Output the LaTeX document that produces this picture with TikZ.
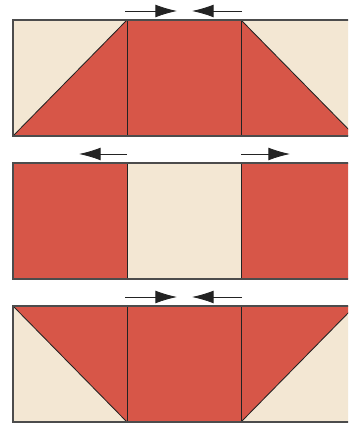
\documentclass[tikz,border=0pt]{standalone}
\usepackage{xcolor}
\usetikzlibrary{arrows.meta, math}
\definecolor{qred}{RGB}{215,86,72}
\definecolor{qcream}{RGB}{243,231,211}
\definecolor{qline}{RGB}{35,35,35}

\begin{document}
\begin{tikzpicture}[x=0.025cm,y=0.025cm]
\tikzmath{
\W=114;
\H=116;
\P=143;
\xa=13;
\xb=\xa+\W;
\xc=\xa+2*\W;
\xd=\xa+3*\W;
\g=9;
}
\tikzset{
  seam/.style={line width=0.6pt,color=qline},
  frame/.style={line width=0.8pt,color=black!70},
  push/.style={line width=0.6pt,color=qline,-{Latex[length=5.4mm,width=3.2mm]}}
}
\useasboundingbox (0,0) rectangle (348,425);
\clip (0,0) rectangle (348,425);

%row 1
\tikzmath{\yb=3+2*\P; \yt=\yb+\H;}
\fill[qcream] (\xa,\yb) rectangle (\xd,\yt);
\fill[qred] (\xa,\yb) -- (\xb,\yt) -- (\xc,\yt) -- (\xd,\yb) -- cycle;
\draw[seam] (\xa,\yb) -- (\xb,\yt) (\xc,\yt) -- (\xd,\yb);
\draw[seam] (\xb,\yb) -- (\xb,\yt) (\xc,\yb) -- (\xc,\yt);
\draw[frame] (\xa,\yb) rectangle (\xd,\yt);
\draw[push] (\xb-2,\yt+\g) -- (\xb+50,\yt+\g);
\draw[push] (\xc+1,\yt+\g) -- (\xc-49,\yt+\g);

%row 2
\tikzmath{\yb=3+\P; \yt=\yb+\H;}
\fill[qred] (\xa,\yb) rectangle (\xd,\yt);
\fill[qcream] (\xb,\yb) rectangle (\xc,\yt);
\draw[seam] (\xb,\yb) -- (\xb,\yt) (\xc,\yb) -- (\xc,\yt);
\draw[frame] (\xa,\yb) rectangle (\xd,\yt);
\draw[push] (\xb,\yt+\g) -- (\xb-48,\yt+\g);
\draw[push] (\xc,\yt+\g) -- (\xc+49,\yt+\g);

%row 3
\tikzmath{\yb=3; \yt=\yb+\H;}
\fill[qcream] (\xa,\yb) rectangle (\xd,\yt);
\fill[qred] (\xa,\yt) -- (\xd,\yt) -- (\xc,\yb) -- (\xb,\yb) -- cycle;
\draw[seam] (\xa,\yt) -- (\xb,\yb) (\xc,\yb) -- (\xd,\yt);
\draw[seam] (\xb,\yb) -- (\xb,\yt) (\xc,\yb) -- (\xc,\yt);
\draw[frame] (\xa,\yb) rectangle (\xd,\yt);
\draw[push] (\xb-2,\yt+\g) -- (\xb+50,\yt+\g);
\draw[push] (\xc+1,\yt+\g) -- (\xc-49,\yt+\g);

\end{tikzpicture}
\end{document}
